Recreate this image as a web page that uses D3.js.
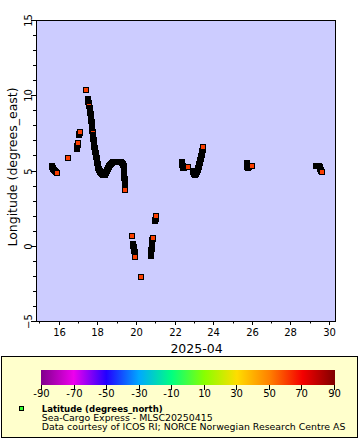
<!DOCTYPE html>
<html><head><meta charset="utf-8">
<script src="https://cdn.jsdelivr.net/npm/d3@7"></script>
<style>
body{margin:0;background:#fff}
svg{display:block}
text{font-family:"DejaVu Sans",sans-serif;fill:#000}
</style>
</head><body>
<svg id="chart" width="360" height="440"></svg>
<script>
// ---- data ----
// time as fractional day of April 2025 (UTC)
const dayOfApril = [
  15.651,15.660,15.702,15.712,15.754,15.806,15.858,15.910,
  16.479,
  16.940,16.945,16.950,16.955,16.985,16.992,16.999,
  17.040,17.047,17.095,17.102,
  17.411,
  17.505,17.510,17.515,17.520,
  17.557,17.562,17.567,17.572,
  17.604,17.609,17.614,17.619,17.624,17.629,
  17.652,17.656,17.660,17.664,17.668,17.672,17.676,17.680,
  17.702,17.706,17.710,17.714,17.718,17.722,17.726,17.730,17.734,17.738,
  17.758,17.762,17.766,17.770,17.774,17.778,17.782,
  17.808,17.812,17.816,17.820,17.824,17.828,17.832,17.836,
  17.865,17.870,17.875,17.880,17.885,
  17.917,17.922,17.927,17.932,17.937,
  17.964,17.968,17.972,17.976,17.980,17.984,
  18.016,18.021,18.026,18.031,
  18.036,18.075,18.085,18.127,18.137,18.188,18.240,18.292,18.343,18.390,18.400,
  18.442,18.452,18.494,18.504,18.546,18.556,18.598,18.608,18.654,18.706,18.758,
  18.810,18.861,18.913,18.965,19.017,19.068,19.120,19.172,19.224,
  19.276,19.320,19.330,
  19.358,19.361,19.364,19.367,19.370,19.373,19.376,19.379,19.382,19.385,19.388,19.391,19.394,
  19.410,19.413,19.416,19.419,19.422,19.425,19.428,19.431,19.434,19.437,19.440,19.443,
  19.794,19.830,19.838,19.846,19.880,19.888,19.896,19.904,19.912,
  19.930,19.938,19.946,19.954,19.962,19.970,
  20.260,
  20.755,20.762,20.769,20.776,20.783,20.790,20.797,
  20.806,20.811,20.816,20.821,20.826,20.831,20.836,20.841,20.846,20.851,20.862,20.870,
  20.975,20.985,21.015,21.022,21.029,21.036,
  22.365,22.375,22.385,22.395,22.420,22.430,22.440,22.487,22.538,22.590,22.642,22.694,
  22.945,22.960,22.995,23.010,23.056,23.100,23.115,23.150,23.165,23.198,23.210,23.222,
  23.245,23.255,23.265,23.275,23.297,23.307,23.317,23.327,23.350,23.360,23.370,23.380,
  23.400,23.408,23.416,23.424,23.432,23.450,23.460,23.470,23.480,
  25.730,25.738,25.746,25.754,25.762,25.801,25.853,25.904,25.956,26.000,
  29.321,29.373,29.425,29.476,29.515,29.525,29.535,29.570,29.585,29.632
];
const longitude = [
  5.299,5.233,5.166,5.100,5.033,4.967,4.900,4.834,
  5.831,
  6.429,6.495,6.562,6.628,6.694,6.761,6.827,
  7.359,7.425,7.492,7.558,
  10.349,
  9.751,9.684,9.618,9.551,
  9.485,9.419,9.352,9.286,
  9.153,9.086,9.020,8.953,8.887,8.821,
  8.754,8.688,8.621,8.555,8.488,8.422,8.356,8.289,
  8.223,8.156,8.090,8.023,7.957,7.890,7.824,7.758,7.691,7.625,
  7.558,7.492,7.359,7.292,7.226,7.160,7.093,
  7.027,6.960,6.894,6.827,6.761,6.694,6.628,6.562,
  6.495,6.429,6.362,6.296,6.229,
  6.163,6.096,6.030,5.964,5.897,
  5.831,5.764,5.698,5.631,5.565,5.498,
  5.432,5.365,5.299,5.233,
  5.166,5.100,5.033,4.967,4.900,4.834,4.767,4.701,4.701,4.701,4.767,
  4.834,4.900,4.967,5.033,5.100,5.166,5.233,5.299,5.365,5.432,5.498,
  5.565,5.565,5.565,5.565,5.565,5.565,5.565,5.565,5.565,
  5.498,5.432,5.365,
  5.299,5.233,5.166,5.100,5.033,4.967,4.900,4.834,4.767,4.701,4.635,4.568,4.502,
  4.435,4.369,4.302,4.236,4.169,4.103,4.037,3.970,3.904,3.837,3.771,3.704,
  0.648,0.116,0.050,-0.017,-0.083,-0.150,-0.216,-0.282,-0.349,
  -0.415,-0.482,-0.548,-0.615,-0.681,-0.747,
  -2.076,
  -0.681,-0.615,-0.548,-0.482,-0.415,-0.349,-0.282,
  -0.216,-0.150,-0.083,-0.017,0.050,0.116,0.183,0.249,0.315,0.382,0.448,0.515,
  1.645,1.711,1.777,1.844,1.910,1.977,
  5.565,5.498,5.432,5.365,5.299,5.233,5.166,5.166,5.233,5.233,5.233,5.233,
  4.967,4.900,4.834,4.767,4.701,4.767,4.834,4.900,4.967,5.033,5.100,5.166,
  5.233,5.299,5.365,5.432,5.498,5.565,5.631,5.698,5.764,5.831,5.897,5.964,
  6.030,6.096,6.163,6.229,6.296,6.362,6.429,6.495,6.562,
  5.498,5.432,5.365,5.299,5.233,5.166,5.233,5.299,5.299,5.299,
  5.299,5.299,5.299,5.299,5.233,5.166,5.100,5.033,4.967,4.900
];
const latitude = [
  60.4,60.4,60.4,60.4,60.4,60.4,60.4,60.4,
  60.3,
  60.2,60.2,60.2,60.2,60.2,60.2,60.2,
  60.2,60.2,60.2,60.2,
  60.1,
  60.1,60.1,60.1,60.1,
  60.1,60.1,60.1,60.1,
  60.1,60.1,60.1,60.1,60.1,60.1,
  60.2,60.2,60.2,60.2,60.2,60.2,60.2,60.2,
  60.2,60.2,60.2,60.2,60.2,60.2,60.2,60.2,60.2,60.2,
  60.3,60.3,60.3,60.3,60.3,60.3,60.3,
  60.3,60.3,60.3,60.3,60.3,60.3,60.3,60.3,
  60.3,60.3,60.3,60.3,60.3,
  60.4,60.4,60.4,60.4,60.4,
  60.4,60.4,60.4,60.4,60.4,60.4,
  60.4,60.4,60.4,60.4,
  60.4,60.4,60.4,60.4,60.4,60.4,60.4,60.4,60.4,60.4,60.4,
  60.4,60.4,60.4,60.4,60.4,60.4,60.4,60.4,60.4,60.4,60.4,
  60.4,60.4,60.4,60.4,60.4,60.4,60.4,60.4,60.4,
  60.4,60.4,60.4,
  60.4,60.4,60.4,60.4,60.4,60.4,60.4,60.4,60.4,60.4,60.4,60.4,60.4,
  60.4,60.4,60.4,60.4,60.4,60.4,60.4,60.4,60.4,60.4,60.4,60.4,
  60.2,60.2,60.2,60.2,60.2,60.2,60.2,60.2,60.2,
  60.2,60.2,60.2,60.2,60.2,60.2,
  60.0,
  60.2,60.2,60.2,60.2,60.2,60.2,60.2,
  60.2,60.2,60.2,60.2,60.2,60.2,60.2,60.2,60.2,60.2,60.2,60.2,
  60.3,60.3,60.3,60.3,60.3,60.3,
  60.4,60.4,60.4,60.4,60.4,60.4,60.4,60.4,60.4,60.4,60.4,60.4,
  60.4,60.4,60.4,60.4,60.4,60.4,60.4,60.4,60.4,60.4,60.4,60.4,
  60.4,60.4,60.4,60.4,60.4,60.4,60.4,60.4,60.4,60.4,60.4,60.4,
  60.4,60.4,60.4,60.4,60.4,60.4,60.4,60.4,60.4,
  60.4,60.4,60.4,60.4,60.4,60.4,60.4,60.4,60.4,60.4,
  60.4,60.4,60.4,60.4,60.4,60.4,60.4,60.4,60.4,60.4
];
const xDomainDays = [14.822, 30.306];
const xTickDays = [16,18,20,22,24,26,28,30];
const xMinorDays = [15,17,19,21,23,25,27,29];
const yDomain = [-5, 15];
const yTicks = [-5,0,5,10,15];
const yMinorTicks = [-4,-3,-2,-1,1,2,3,4,6,7,8,9,11,12,13,14];
const colorTicks = [-90,-70,-50,-30,-10,10,30,50,70,90];
const colorStops = ["#80008c","#ee00ee","#2200ff","#00a8ff","#00ff80","#88ff00","#ffdd00","#ff8000","#f50000","#800000"];
const xTitle = "2025-04";
const yTitle = "Longitude (degrees_east)";
const legendTitle = "Latitude (degrees_north)";
const legendLines = ["Sea-Cargo Express - MLSC20250415","Data courtesy of ICOS RI; NORCE Norwegian Research Centre AS"];

// ---- drawing ----
const toDate = d => new Date(Date.UTC(2025, 3, 1) + (d - 1) * 864e5);
const svg = d3.select("#chart");
const FONT = "DejaVu Sans";

const x = d3.scaleUtc().domain(xDomainDays.map(toDate)).rangeRound([36, 335]);
const y = d3.scaleLinear().domain(yDomain).rangeRound([321, 20]);
const color = d3.scaleLinear().domain(colorTicks).range(colorStops).clamp(true);

// plot background
svg.append("rect").attr("x", 36.5).attr("y", 20.5).attr("width", 299).attr("height", 301)
  .attr("fill", "#ccccff");

// markers (drawn in time order)
const pts = dayOfApril.map((d, i) => ({t: toDate(d), lon: longitude[i], lat: latitude[i]}));
svg.append("g").selectAll("rect").data(pts).join("rect")
  .attr("x", d => x(d.t) - 2.5)
  .attr("y", d => y(d.lon) - 2.5)
  .attr("width", 5).attr("height", 5)
  .attr("fill", d => color(d.lat))
  .attr("stroke", "#000").attr("stroke-width", 1);

// frame
svg.append("rect").attr("x", 36.5).attr("y", 20.5).attr("width", 299).attr("height", 301)
  .attr("fill", "none").attr("stroke", "#000");

// x axis
const gx = svg.append("g").attr("transform", "translate(0,321)")
  .call(d3.axisBottom(x).tickValues(xTickDays.map(toDate)).tickSize(4).tickPadding(4)
    .tickFormat(d3.utcFormat("%-d")));
gx.append("g").call(d3.axisBottom(x).tickValues(xMinorDays.map(toDate)).tickSize(2.5).tickFormat(""));
gx.selectAll(".domain").remove();
gx.attr("font-family", FONT).attr("font-size", 10);

// y axis
const gy = svg.append("g").attr("transform", "translate(36,0)")
  .call(d3.axisLeft(y).tickValues(yTicks).tickSize(5).tickFormat(d3.format("d")));
gy.append("g").call(d3.axisLeft(y).tickValues(yMinorTicks).tickSize(3).tickFormat(""));
gy.selectAll(".domain").remove();
gy.attr("font-family", FONT).attr("font-size", 10);
gy.selectAll(".tick text").attr("x", null).attr("dy", null)
  .attr("text-anchor", "middle").attr("transform", "translate(-4.5,0) rotate(-90)");

// titles
svg.append("text").attr("x", 196.5).attr("y", 352.5).attr("text-anchor", "middle")
  .attr("font-size", 12.5).text(xTitle);
svg.append("text").attr("transform", "translate(16.5,167) rotate(-90)").attr("text-anchor", "middle")
  .attr("font-size", 12.5).text(yTitle);

// legend box
svg.append("rect").attr("x", 1.5).attr("y", 356.5).attr("width", 356).attr("height", 81)
  .attr("fill", "#ffffcc").attr("stroke", "#000");

// colour bar
const defs = svg.append("defs");
const grad = defs.append("linearGradient").attr("id", "cb").attr("x1", "0%").attr("x2", "100%");
colorTicks.forEach((v, i) => grad.append("stop")
  .attr("offset", ((v + 90) / 180 * 100) + "%").attr("stop-color", colorStops[i]));
const cb = d3.scaleLinear().domain([colorTicks[0], colorTicks[colorTicks.length - 1]]).rangeRound([41, 334]);
svg.append("rect").attr("x", 41).attr("y", 370).attr("width", 294).attr("height", 15).attr("fill", "url(#cb)");
const gc = svg.append("g").attr("transform", "translate(0,385)")
  .call(d3.axisBottom(cb).tickValues(colorTicks).tickSize(5).tickPadding(0).tickFormat(d3.format("d")));
gc.selectAll(".domain").remove();
gc.attr("font-family", FONT).attr("font-size", 10);
gc.selectAll(".tick text").text(d => d < 0 ? "-" + Math.abs(d) : String(d));

// legend entry
svg.append("rect").attr("x", 19.5).attr("y", 406.5).attr("width", 4).attr("height", 4)
  .attr("fill", "#33ff33").attr("stroke", "#000");
svg.append("text").attr("x", 41.7).attr("y", 411.7).attr("font-size", 9.4).attr("font-weight", "bold")
  .attr("textLength", 121).attr("lengthAdjust", "spacingAndGlyphs").text(legendTitle);
svg.append("text").attr("x", 41.7).attr("y", 420.7).attr("font-size", 9.4).text(legendLines[0]);
svg.append("text").attr("x", 41.7).attr("y", 430).attr("font-size", 9.4).text(legendLines[1]);
</script>
</body></html>
